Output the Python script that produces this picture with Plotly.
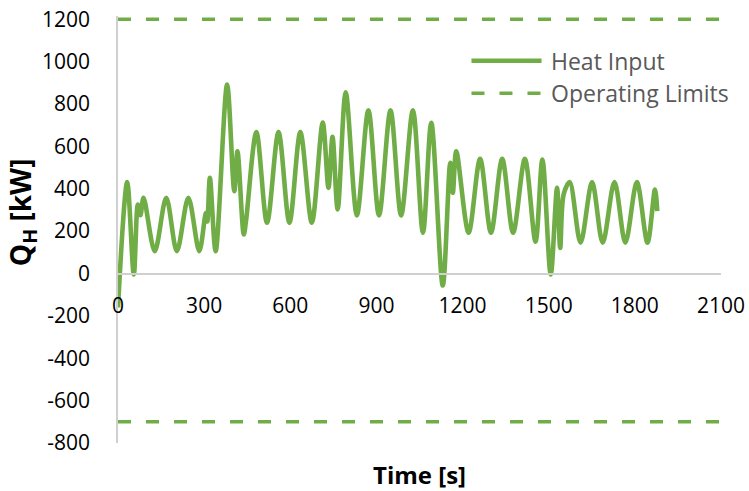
import plotly.graph_objects as go

# Heat input trace (time [s], Q_H [kW])
time_s = [0, 32, 55, 69, 78, 89, 128, 168, 205, 245, 283, 306, 311, 320, 340,
          380, 405, 416, 438, 446, 482, 519, 559, 597, 635, 675, 713, 733, 747,
          765, 793, 832, 872, 909, 949, 986, 1027, 1062, 1091, 1131, 1157, 1166,
          1178, 1221, 1261, 1299, 1338, 1376, 1417, 1454, 1478, 1507, 1529, 1540,
          1552, 1573, 1611, 1651, 1688, 1729, 1767, 1807, 1844, 1870, 1878]
heat_kw = [-160, 431, -5, 325, 275, 357, 105, 357, 105, 357, 105, 286, 245, 451, 105,
           891, 388, 577, 184, 250, 667, 239, 667, 239, 667, 239, 712, 404, 645,
           302, 855, 274, 770, 274, 770, 274, 770, 192, 711, -57, 522, 381,
           577, 192, 541, 192, 541, 192, 541, 150, 538, -5, 404, 121,
           373, 431, 145, 431, 145, 431, 145, 431, 145, 396, 294]

limit_upper = 1200
limit_lower = -700
limit_t = [0, 2100]

x_ticks = [0, 300, 600, 900, 1200, 1500, 1800, 2100]
y_ticks = [-800, -600, -400, -200, 0, 200, 400, 600, 800, 1000, 1200]

GREEN = "#70AD47"
FONT = "Open Sans"

fig = go.Figure()
fig.add_trace(go.Scatter(x=time_s, y=heat_kw, mode="lines", name="Heat Input",
                         line=dict(color=GREEN, width=4.6, shape="spline", smoothing=0.9),
                         showlegend=False))
fig.add_trace(go.Scatter(x=limit_t + [None] + limit_t,
                         y=[limit_upper, limit_upper, None, limit_lower, limit_lower],
                         mode="lines", name="Operating Limits",
                         line=dict(color=GREEN, width=3.5, dash="13px,15px"),
                         showlegend=False))

# manual legend (long line samples like the original)
leg_x0, leg_x1, leg_tx = 1231, 1475, 1502
leg_y = [1004, 850]
fig.add_shape(type="line", xref="x", yref="y", x0=leg_x0, x1=leg_x1, y0=leg_y[0], y1=leg_y[0],
              line=dict(color=GREEN, width=4.6))
fig.add_shape(type="line", xref="x", yref="y", x0=leg_x0, x1=leg_x1, y0=leg_y[1], y1=leg_y[1],
              line=dict(color=GREEN, width=3.5, dash="13px,15px"))
for txt, yy in zip(["Heat Input", "Operating Limits"], leg_y):
    fig.add_annotation(x=leg_tx, y=yy, xref="x", yref="y", text=txt, showarrow=False,
                       xanchor="left", yanchor="middle",
                       font=dict(family=FONT, size=23, color="#595959"))

# axis titles
fig.add_annotation(x=0.5, y=-0.0745, xref="paper", yref="paper", text="<b>Time [s]</b>",
                   showarrow=False, xanchor="center", yanchor="middle", borderpad=0,
                   font=dict(family=FONT, size=24, color="#000000"))
fig.add_annotation(x=-0.158, y=0.54, xref="paper", yref="paper",
                   text="<b>Q<sub>H</sub> [kW]</b>", textangle=-90, borderpad=0,
                   showarrow=False, xanchor="center", yanchor="middle",
                   font=dict(family=FONT, size=28, color="#000000"))

fig.update_layout(
    width=749, height=491,
    margin=dict(l=118.3, r=28, t=16.0, b=48.3, pad=0, autoexpand=False),
    paper_bgcolor="white", plot_bgcolor="white",
    font=dict(family=FONT, size=21, color="#000000"),
    showlegend=False,
    xaxis=dict(range=[0, 2100], tickvals=x_ticks, ticktext=[str(v) for v in x_ticks],
               showgrid=False, zeroline=False, showline=True, linecolor="#D0D0D0",
               linewidth=1.5, ticks="", anchor="free", position=0.3953, automargin=False,
               ticklabelstandoff=13, tickfont=dict(family=FONT, size=21, color="#000000")),
    yaxis=dict(range=[-800, 1215], tickvals=y_ticks, ticktext=[str(v) for v in y_ticks],
               showgrid=False, zeroline=False, showline=True, linecolor="#D0D0D0",
               linewidth=1.5, ticks="", ticklabelstandoff=22, automargin=False,
               tickfont=dict(family=FONT, size=21, color="#000000")),
)

fig.write_html("out.html")
